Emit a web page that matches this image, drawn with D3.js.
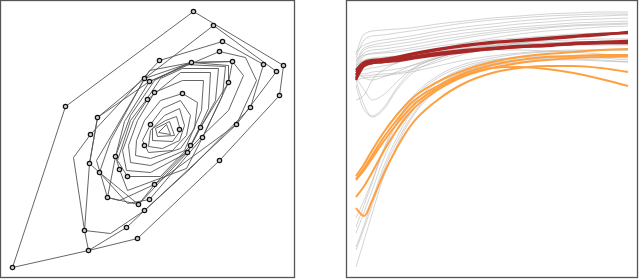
<!DOCTYPE html>
<html>
<head>
<meta charset="utf-8">
<script src="https://cdn.jsdelivr.net/npm/d3@7/dist/d3.min.js"></script>
<style>
  body { margin: 0; background: #fff; }
  svg { display: block; }
</style>
</head>
<body>
<svg id="chart" width="640" height="279"></svg>
<script>
// ---- left panel: depth contours (outer -> inner), x/y ----
const layers = [
  [[193,11],[283,65],[279,95],[219,160],[137,238],[88,250],[12,267],[65,106]],
  [[213,25],[276,71],[236,124],[144,210],[126,227],[88,250],[84,230],[89,163],[97,117],[144,78]],
  [[222,41],[263,64],[250,107],[190,168],[144,210],[110,233],[84,230],[73,157],[90,134],[159,60]],
  [[219,51],[245,57],[256,80],[236,124],[154,184],[138,204],[99,172],[89,163],[97,117],[149,81]],
  [[232,61],[243,75],[228,110],[200,137],[154,184],[119,200],[107,197],[96,160],[115,128],[149,70],[191,62]],
  [[191,62],[232,61],[228,82],[202,137],[149,199],[127,203],[99,172],[110,140],[144,78]],
  [[191,62],[228,65],[228,82],[200,127],[187,152],[138,204],[107,197],[115,156],[124,121],[149,81]],
  [[185,64],[225,66],[222,95],[202,137],[186,168],[127,190],[119,169],[115,156],[130,115],[154,80]],
  [[182,68],[218,68],[215,100],[190,145],[160,176],[127,176],[117,160],[130,120],[146,99],[160,78]],
  [[180,72],[210,72],[208,108],[187,152],[150,172],[126,170],[122,150],[133,120],[147,99]],
  [[182,80],[203,80],[201,110],[184,150],[150,165],[130,162],[128,145],[137,120],[154,92]],
  [[182,93],[197,102],[194,128],[180,148],[150,158],[135,155],[136,140],[144,120],[160,100]],
  [[180,100],[190,115],[186,135],[172,150],[148,152],[142,140],[150,124],[162,108]],
  [[179,108],[184,125],[179,140],[162,148],[148,146],[150,130],[164,115]],
  [[176,116],[180,130],[172,141],[152,140],[152,128],[165,120]],
  [[169,121],[174,135],[157,136],[155,128]],
  [[166,124],[170,134],[158,132]]
];

const points = [
  [193,11],[213,25],[222,41],[219,51],[159,60],[191,62],[232,61],[263,64],[283,65],[276,71],
  [144,78],[149,81],[228,82],[279,95],[154,92],[182,93],[147,99],[65,106],[250,107],[97,117],
  [236,124],[150,124],[179,129],[200,127],[90,134],[202,137],[144,145],[190,145],[187,152],[115,156],
  [219,160],[89,163],[119,169],[99,172],[127,176],[154,184],[107,197],[149,199],[138,204],[144,210],
  [84,230],[126,227],[137,238],[88,250],[12,267]
];

// ---- right panel: curves sampled at t (0..1), values read as depth from top ----
const tGrid = [0, 0.03, 0.06, 0.1, 0.15, 0.2, 0.3, 0.4, 0.5, 0.6, 0.7, 0.8, 0.9, 1.0];

const grayCurves = [
  [55, 34, 31, 30, 29, 28, 24, 21, 18, 16, 14, 13, 12, 12],
  [58, 40, 36, 35, 33, 31, 27, 23, 20, 18, 16, 15, 14, 14],
  [52, 45, 42, 40, 38, 36, 31, 27, 24, 21, 19, 17, 16, 15],
  [62, 48, 45, 43, 41, 39, 34, 30, 27, 24, 22, 20, 19, 18],
  [65, 50, 47, 46, 44, 42, 37, 33, 30, 27, 25, 23, 22, 21],
  [68, 53, 50, 49, 47, 45, 40, 36, 32, 29, 27, 25, 24, 23],
  [72, 56, 53, 52, 50, 48, 43, 38, 34, 31, 28, 26, 25, 24],
  [75, 70, 68, 66, 63, 58, 50, 43, 38, 34, 31, 29, 27, 26],
  [73, 74, 72, 71, 69, 66, 58, 50, 44, 40, 37, 35, 34, 33],
  [76, 76, 75, 74, 73, 70, 62, 54, 48, 45, 43, 42, 41, 40],
  [78, 90, 100, 95, 82, 70, 58, 50, 46, 44, 43, 42, 42, 42],
  [80, 105, 117, 110, 90, 75, 60, 52, 48, 46, 45, 45, 45, 45],
  [85, 110, 116, 108, 88, 72, 58, 51, 47, 45, 44, 44, 44, 44],
  [100, 95, 80, 70, 63, 58, 52, 48, 45, 43, 41, 40, 39, 39],
  [70, 78, 80, 77, 72, 66, 57, 52, 50, 50, 51, 52, 54, 56],
  [227, 205, 182, 152, 124, 102, 78, 66, 60, 57, 56, 56, 57, 58],
  [233, 212, 190, 160, 130, 108, 82, 68, 61, 58, 57, 57, 58, 60],
  [247, 225, 200, 168, 138, 114, 86, 71, 63, 60, 59, 59, 60, 62],
  [250, 228, 205, 172, 142, 118, 88, 72, 64, 60, 58, 57, 57, 57],
  [267, 240, 213, 178, 146, 120, 90, 74, 66, 62, 60, 60, 61, 62],
  [218, 200, 180, 150, 122, 100, 76, 64, 58, 54, 52, 51, 50, 50],
  [60, 55, 54, 53, 52, 50, 46, 43, 40, 38, 36, 34, 33, 32],
  [80, 78, 77, 76, 74, 72, 66, 60, 56, 53, 51, 50, 50, 50],
  [66, 60, 58, 57, 56, 55, 52, 49, 46, 43, 40, 37, 35, 34]
];

const orangeCurves = [
  [176, 164, 150, 133, 115, 100, 82, 70, 62, 57, 54, 52, 50, 49],
  [179, 168, 155, 138, 120, 104, 86, 73, 65, 60, 57, 56, 55, 55],
  [197, 186, 172, 152, 130, 112, 90, 76, 68, 63, 60, 58, 57, 56],
  [208, 216, 200, 175, 148, 126, 100, 83, 73, 68, 66, 66, 68, 72],
  [180, 170, 158, 142, 124, 108, 88, 75, 68, 67, 69, 73, 79, 86]
];

const redCurves = [
  [70, 62, 60, 59, 57, 54, 49, 45, 42, 40, 38, 36, 34, 33],
  [75, 63, 61, 60, 58, 55, 50, 46, 43, 41, 39, 37, 35, 32],
  [78, 64, 62, 61, 59, 57, 53, 50, 48, 46, 45, 43, 42, 41],
  [80, 66, 63, 62, 60, 58, 54, 51, 49, 47, 45, 44, 43, 42],
  [72, 65, 63, 62, 61, 59, 55, 52, 49, 47, 46, 44, 43, 43]
];

const svg = d3.select("#chart");

// left panel
const left = svg.append("g");
const lx = d3.scaleLinear().domain([0, 294]).range([0.5, 294.5]);
const ly = d3.scaleLinear().domain([0, 277]).range([0.5, 277.5]);

left.append("rect")
  .attr("x", lx(0)).attr("y", ly(0))
  .attr("width", lx(294) - lx(0)).attr("height", ly(277) - ly(0))
  .attr("fill", "#fff").attr("stroke", "#555").attr("stroke-width", 1.3);

const poly = d3.line().x(d => lx(d[0])).y(d => ly(d[1])).curve(d3.curveLinearClosed);

left.selectAll("path.layer")
  .data(layers)
  .enter()
  .append("path")
  .classed("layer", true)
  .attr("d", poly)
  .attr("fill", "none")
  .attr("stroke", "#555")
  .attr("stroke-width", 0.9);

left.selectAll("circle.pt")
  .data(points)
  .enter()
  .append("circle")
  .classed("pt", true)
  .attr("cx", d => lx(d[0]))
  .attr("cy", d => ly(d[1]))
  .attr("r", 2.2)
  .attr("fill", "#ccc")
  .attr("stroke", "#111")
  .attr("stroke-width", 1.2);

// right panel
const right = svg.append("g");
right.append("rect")
  .attr("x", 346.5).attr("y", 0.5)
  .attr("width", 291).attr("height", 277)
  .attr("fill", "#fff").attr("stroke", "#555").attr("stroke-width", 1.3);

const rx = d3.scaleLinear().domain([0, 1]).range([356, 628]);
const ry = d3.scaleLinear().domain([0, 277]).range([0, 277]);

const curve = d3.line()
  .x((d, i) => rx(tGrid[i]))
  .y(d => ry(d))
  .curve(d3.curveMonotoneX);

right.selectAll("path.gray")
  .data(grayCurves)
  .enter()
  .append("path")
  .classed("gray", true)
  .attr("d", curve)
  .attr("fill", "none")
  .attr("stroke", "#aaa")
  .attr("stroke-opacity", 0.5)
  .attr("stroke-width", 1);

right.selectAll("path.orange")
  .data(orangeCurves)
  .enter()
  .append("path")
  .classed("orange", true)
  .attr("d", curve)
  .attr("fill", "none")
  .attr("stroke", "#ffa040")
  .attr("stroke-width", 2);

right.selectAll("path.red")
  .data(redCurves)
  .enter()
  .append("path")
  .classed("red", true)
  .attr("d", curve)
  .attr("fill", "none")
  .attr("stroke", "#a82828")
  .attr("stroke-width", 2.4);
</script>
</body>
</html>
